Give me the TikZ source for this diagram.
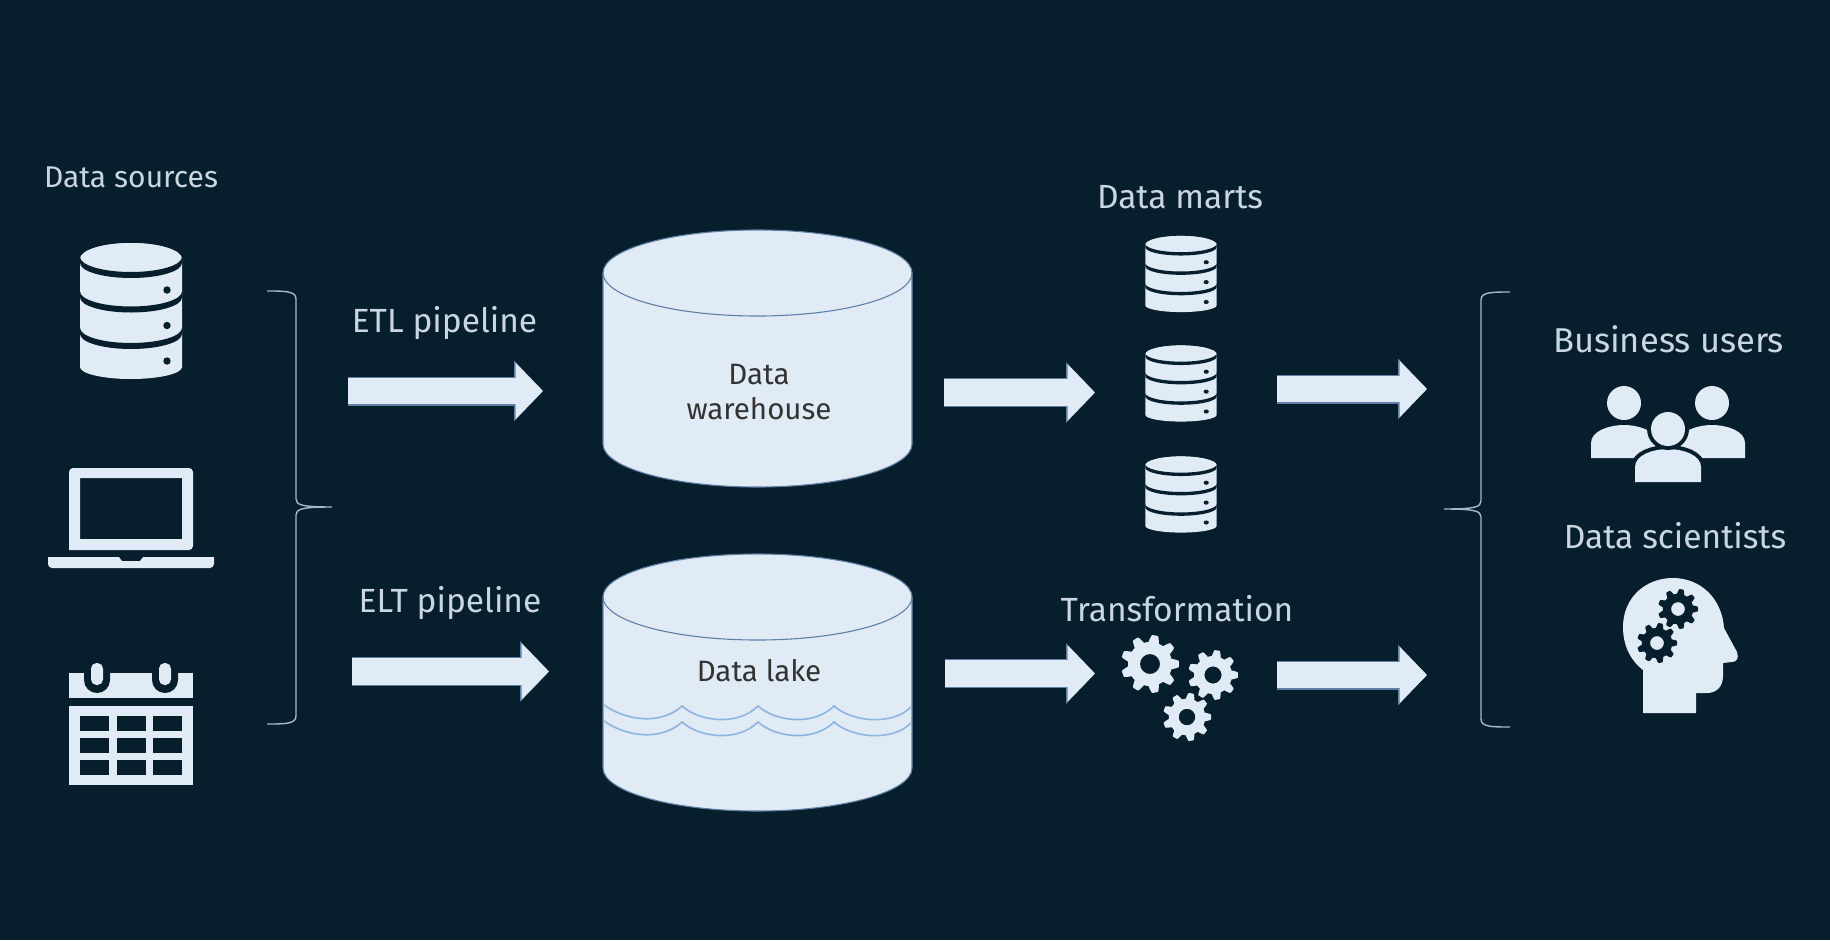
\documentclass[tikz,border=0pt]{standalone}
\usepackage{fontspec}
\setmainfont{Fira Sans}
\usetikzlibrary{arrows.meta}
\definecolor{bgnavy}{HTML}{071E2D}
\definecolor{iconfill}{HTML}{E0EBF5}
\definecolor{rimblue}{HTML}{5F80A8}
\definecolor{wavecol}{HTML}{8FB4DE}
\definecolor{labelcol}{HTML}{CAD6E0}
\definecolor{bracecol}{HTML}{A9B8C6}

\tikzset{
	dbicon/.pic = {
		\fill[iconfill] (-51,-52) arc[x radius=51, y radius=16, start angle=180, end angle=360]
			-- (51,56) arc[x radius=51, y radius=12, start angle=0, end angle=180] -- cycle;
		\fill[iconfill] (0,-52) ellipse[x radius=51, y radius=16];
		\foreach \bandy in {-54,-19.5,17}
			\fill[bgnavy] (-51,\bandy) arc[x radius=51, y radius=15, start angle=180, end angle=0]
				-- (51,\bandy+6) arc[x radius=51, y radius=15, start angle=0, end angle=180] -- cycle;
		\foreach \doty in {-21,14.5,50}
			\fill[bgnavy] (36,\doty) circle (3.7);
	},
	gearicon/.pic = {
		\fill[pic actions, even odd rule] plot[domain=0:360, samples=181]
			(\x:{25.5+3.5*max(-1,min(1,1.8*cos(9*\x)))}) -- cycle (0,0) circle (10);
	},
	bodyicon/.pic = {
		\path[pic actions] (-33,33) -- (-33,18) .. controls (-33,6) and (-15,0) .. (0,0)
			.. controls (15,0) and (33,6) .. (33,18) -- (33,33) -- cycle;
	},
	storeicon/.pic = {
		\filldraw[fill=iconfill, draw=rimblue, line width=1.1pt] (-154.5,-85.5)
			arc[x radius=154.5, y radius=43, start angle=180, end angle=360]
			-- (154.5,85.5) arc[x radius=154.5, y radius=43, start angle=0, end angle=180] -- cycle;
		\draw[rimblue, line width=1.1pt] (-154.5,-85.5)
			arc[x radius=154.5, y radius=43, start angle=180, end angle=0];
	}
}

\begin{document}
\begin{tikzpicture}[x=1pt, y=-1pt,
	txt/.style = {text=labelcol, font=\fontsize{33.5}{38}\selectfont, inner sep=0pt},
	dark/.style = {text=black!80, font=\fontsize{29.5}{35}\selectfont, inner sep=0pt, align=center},
	blockarrow/.style = {draw=iconfill, line width=26.8pt, -{Triangle[length=27.5pt, width=55pt, fill=iconfill, color=iconfill]},
		preaction={draw=rimblue, line width=29pt, -{Triangle[length=29pt, width=59pt, fill=rimblue, color=rimblue]}}},
	bracket/.style = {draw=bracecol, line width=1.4pt}
	]
	\fill[bgnavy] (0,0) rectangle (1830,940);
	\useasboundingbox (0,0) rectangle (1830,940);

	% sources
	\node[txt, font=\fontsize{30}{35}\selectfont] (sources) at (131,177) {Data sources};
	\pic at (131,311) {dbicon};
	\fill[iconfill, even odd rule] [rounded corners=4pt] (69,550) -- (69,468) -- (193,468) -- (193,550) [sharp corners] -- cycle
		(80,478) rectangle (182,539);
	\fill[iconfill] (48,557) -- (119,557) -- (122,561) -- (140,561) -- (143,557) -- (214,557)
		[rounded corners=4pt] -- (214,568) -- (48,568) [sharp corners] -- cycle;
	% calendar
	\fill[iconfill] (69,673) rectangle (193,698);
	\foreach \ringx in {97,165} {
		\fill[bgnavy] (\ringx-13,673) -- (\ringx-13,680) arc[radius=13, start angle=180, end angle=0] -- (\ringx+13,673) -- cycle;
		\fill[iconfill, rounded corners=5.5pt] (\ringx-6,663) rectangle (\ringx+6,685);
	}
	\fill[iconfill] (69,706) rectangle (193,785);
	\foreach \cellx in {80,116.5,153}
		\foreach \celly in {716,738,760}
			\fill[bgnavy] (\cellx,\celly) rectangle +(29,14.5);

	% left brace
	\draw[bracket] (267,291) .. controls (285,291) and (296,291) .. (296,299) -- (296,499)
		.. controls (296,505) and (302,507) .. (332,507) .. controls (302,507) and (296,509) .. (296,515)
		-- (296,716) .. controls (296,724) and (285,724) .. (267,724);

	% pipelines
	\node[txt] (etl) at (444.5,323) {ETL pipeline};
	\node[txt] (elt) at (450,603) {ELT pipeline};
	\coordinate (etlA) at (348,391);
	\coordinate (etlB) at (543,391);
	\coordinate (eltA) at (352,671.5);
	\coordinate (eltB) at (549,671.5);
	\draw[blockarrow] (etlA) -- (etlB);
	\draw[blockarrow] (eltA) -- (eltB);

	% stores
	\pic at (757.5,358.5) {storeicon};
	\node[dark] (warehouse) at (759,392.5) {Data\\warehouse};
	\pic at (757.5,682.5) {storeicon};
	\node[dark] (lake) at (759,670.5) {Data lake};
	\foreach \wavey in {0,16}
		\draw[wavecol, line width=1.6pt] (604,705+\wavey) .. controls (625,720+\wavey) and (660,726+\wavey) .. (682,706+\wavey)
			.. controls (700,722+\wavey) and (738,726+\wavey) .. (758,706+\wavey)
			.. controls (776,722+\wavey) and (814,726+\wavey) .. (834,706+\wavey)
			.. controls (852,722+\wavey) and (892,726+\wavey) .. (911,707+\wavey);

	\coordinate (martsA) at (944,392.5);
	\coordinate (martsB) at (1095,392.5);
	\coordinate (transA) at (945,673.5);
	\coordinate (transB) at (1095,673.5);
	\draw[blockarrow] (martsA) -- (martsB);
	\draw[blockarrow] (transA) -- (transB);

	% marts
	\node[txt] (marts) at (1180,197) {Data marts};
	\foreach \marty in {274,383.5,494.5}
		\pic[xscale=0.7, yscale=0.56] at (1181,\marty) {dbicon};

	% transformation
	\node[txt] (transform) at (1177,609) {Transformation};
	\pic[fill=iconfill, scale=1] at (1150,664) {gearicon};
	\pic[fill=iconfill, scale=0.86] at (1213,675) {gearicon};
	\pic[fill=iconfill, scale=0.83] at (1187,717) {gearicon};

	\coordinate (usersA) at (1277,389);
	\coordinate (usersB) at (1427,389);
	\coordinate (sciA) at (1277,675);
	\coordinate (sciB) at (1427,675);
	\draw[blockarrow] (usersA) -- (usersB);
	\draw[blockarrow] (sciA) -- (sciB);

	% right brace
	\draw[bracket] (1510,292) .. controls (1492,292) and (1481,292) .. (1481,300) -- (1481,501)
		.. controls (1481,507) and (1475,509) .. (1444,509) .. controls (1475,509) and (1481,511) .. (1481,517)
		-- (1481,719) .. controls (1481,727) and (1492,727) .. (1510,727);

	% users
	\node[txt, font=\fontsize{34.5}{38}\selectfont] (business) at (1668.5,339) {Business users};
	\fill[iconfill] (1624,403) circle (17);
	\fill[iconfill] (1712,403) circle (17);
	\pic[fill=iconfill] at (1624,425) {bodyicon};
	\pic[fill=iconfill] at (1712,425) {bodyicon};
	\pic[draw=bgnavy, line width=8pt] at (1668,449) {bodyicon};
	\pic[fill=iconfill] at (1668,449) {bodyicon};
	\fill[bgnavy] (1668,429) circle (21);
	\fill[iconfill] (1668,429) circle (17);

	% scientists
	\node[txt] (scientists) at (1675,536) {Data scientists};
	\fill[iconfill] (1643,713) -- (1643,670) .. controls (1630,660) and (1623,645) .. (1623,627)
		.. controls (1623,598) and (1645,578) .. (1673,578) .. controls (1700,578) and (1722,598) .. (1724,628)
		-- (1737,652) .. controls (1739,658) and (1737,662) .. (1732,662) -- (1723,663) -- (1723,676)
		.. controls (1723,687) and (1716,693) .. (1707,693) -- (1696,693) -- (1696,713) -- cycle;
	\pic[fill=bgnavy, scale=0.69] at (1678,609) {gearicon};
	\pic[fill=bgnavy, scale=0.69] at (1657,643) {gearicon};
\end{tikzpicture}
\end{document}
